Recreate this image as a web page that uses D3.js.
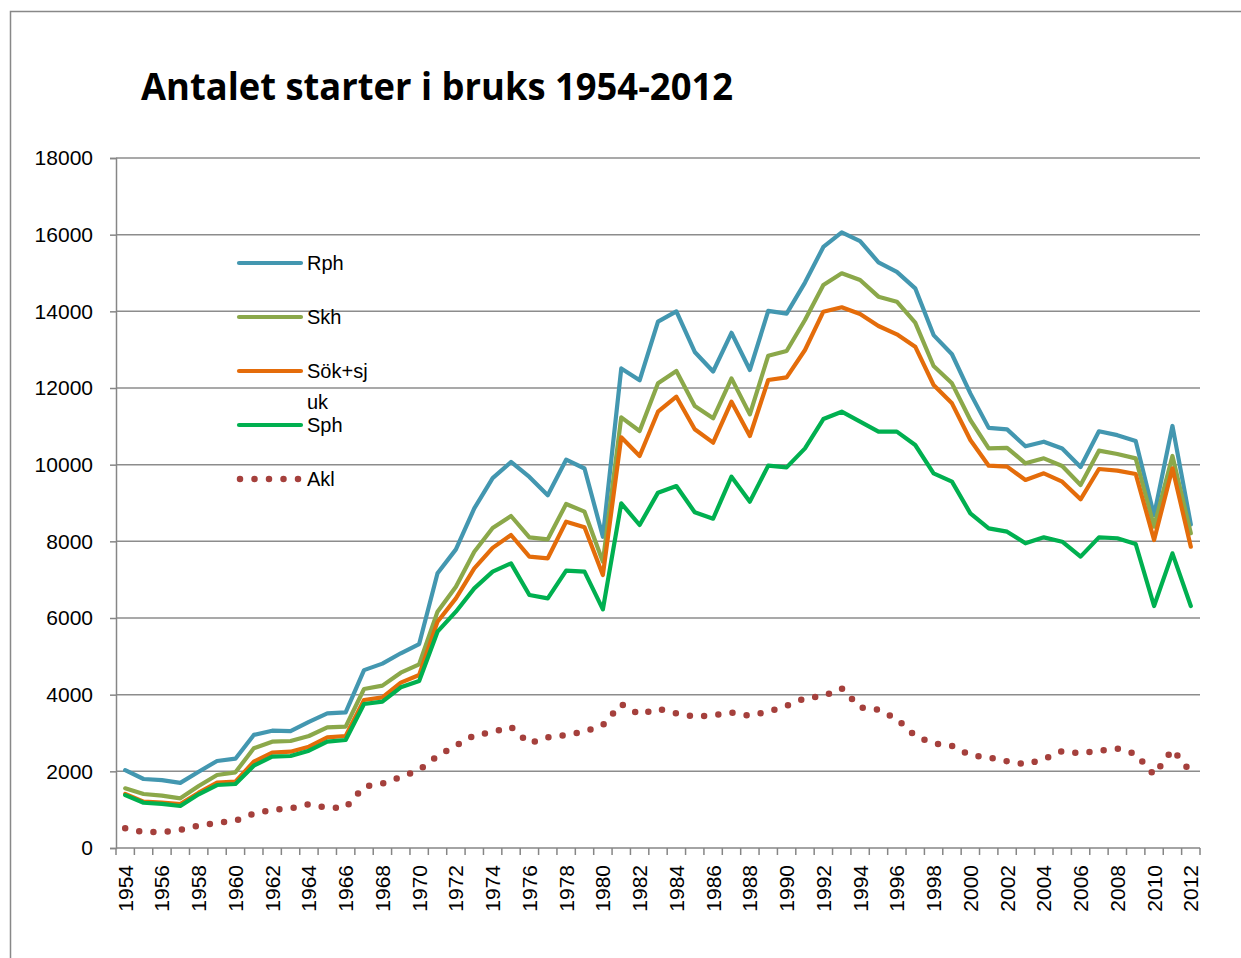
<!DOCTYPE html>
<html><head><meta charset="utf-8">
<script src="https://cdn.jsdelivr.net/npm/d3@7"></script>
<style>
html,body{margin:0;padding:0;background:#fff;}
svg{display:block;}
</style></head>
<body>
<script>
const years = d3.range(1954, 2013);
const rph = [2030,1800,1770,1700,1990,2270,2330,2950,3060,3050,3290,3510,3540,4640,4810,5080,5320,7165,7790,8860,9650,10070,9680,9200,10130,9900,8120,12510,12200,13730,14000,12940,12430,13440,12470,14010,13940,14750,15680,16060,15830,15280,15030,14600,13380,12880,11860,10960,10920,10480,10600,10420,9940,10870,10770,10620,8680,11010,8440];
const skh = [1556,1409,1365,1296,1617,1904,1974,2600,2774,2791,2922,3148,3165,4148,4235,4574,4792,6165,6817,7730,8350,8661,8104,8052,8974,8774,7469,11235,10878,12122,12443,11530,11209,12252,11313,12843,12965,13774,14687,14992,14817,14383,14252,13704,12574,12122,11165,10426,10440,10035,10165,9965,9470,10365,10278,10165,8383,10226,8209];
const soksjuk = [1409,1209,1183,1148,1443,1704,1730,2252,2487,2513,2643,2887,2922,3861,3930,4313,4513,5904,6513,7296,7830,8165,7600,7557,8513,8365,7122,10713,10226,11382,11774,10922,10574,11643,10748,12209,12279,12991,13991,14105,13930,13617,13400,13078,12078,11600,10643,9974,9948,9600,9774,9557,9096,9887,9843,9757,8035,9904,7861];
const sph = [1380,1180,1150,1096,1400,1643,1670,2148,2383,2400,2539,2774,2817,3757,3817,4191,4357,5643,6165,6774,7209,7426,6600,6513,7235,7209,6226,8991,8426,9270,9443,8757,8590,9687,9035,9974,9930,10426,11191,11382,11122,10861,10861,10513,9774,9557,8730,8339,8252,7948,8104,7991,7600,8104,8080,7930,6313,7687,6313];
const akl = [513,417,417,470,583,652,713,896,1000,1035,1139,1052,1052,1600,1678,1852,2035,2400,2670,2939,3026,3157,2730,2887,2948,3035,3209,3757,3478,3635,3513,3426,3461,3530,3452,3557,3713,3904,3965,4165,3670,3610,3365,2922,2730,2661,2417,2365,2261,2183,2313,2530,2470,2539,2591,2452,1904,2570,1983];
const seriesNames = ["Rph","Skh","Sök+sjuk","Sph","Akl"];
const seriesColors = ["#4397B0","#8BA84A","#E46C0A","#00B050","#A5403C"];
const yTicks = [0,2000,4000,6000,8000,10000,12000,14000,16000,18000];
const titleText = "Antalet starter i bruks 1954-2012";

const W = 1241, H = 958;
const svg = d3.select("body").append("svg").attr("width", W).attr("height", H);
svg.append("rect").attr("width", W).attr("height", H).attr("fill", "#fff");

// outer frame
svg.append("path").attr("d", `M10.5,${H} V11.5 H${W}`).attr("fill","none").attr("stroke","#888").attr("stroke-width",1.5);

const pL = 116, pR = 1200, pT = 158, pB = 848;
const x = d3.scaleBand().domain(years).range([pL, pR]);
const xc = d => x(d) + x.bandwidth()/2;
const y = d3.scaleLinear().domain([0, 18000]).range([pB, pT]);

// title
svg.append("text").attr("x", 141).attr("y", 100)
  .attr("font-family", "'Liberation Sans Narrow', 'Open Sans', 'Liberation Sans', sans-serif")
  .attr("font-weight", "bold").attr("font-size", 37)
  .attr("textLength", 592).attr("lengthAdjust", "spacingAndGlyphs")
  .attr("fill", "#000").text(titleText);

// gridlines
svg.append("g").selectAll("line").data(yTicks.filter(v => v > 0)).join("line")
  .attr("x1", pL).attr("x2", pR).attr("y1", d => y(d)).attr("y2", d => y(d))
  .attr("stroke", "#8c8c8c").attr("stroke-width", 1.5);

// y axis
const yAxis = svg.append("g").attr("transform", `translate(${pL},0)`)
  .call(d3.axisLeft(y).tickValues(yTicks).tickSize(6).tickPadding(17).tickFormat(d3.format("d")));
yAxis.select(".domain").attr("stroke", "#868686").attr("stroke-width", 1.5);
yAxis.selectAll(".tick line").attr("stroke", "#868686").attr("stroke-width", 1.5);
yAxis.selectAll("text").attr("font-family", "'Liberation Sans', Arial, sans-serif").attr("font-size", 21).attr("fill", "#000");

// x axis with ticks at category boundaries
const xAxisG = svg.append("g").attr("transform", `translate(0,${pB})`);
xAxisG.append("line").attr("x1", pL).attr("x2", pR).attr("y1", 0).attr("y2", 0)
  .attr("stroke", "#868686").attr("stroke-width", 1.5);
const boundaries = years.map(d => x(d)).concat([pR]);
xAxisG.selectAll("line.tk").data(boundaries).join("line").attr("class","tk")
  .attr("x1", d => d).attr("x2", d => d).attr("y1", 0).attr("y2", 7)
  .attr("stroke", "#868686").attr("stroke-width", 1.5);
xAxisG.selectAll("text").data(years.filter(d => (d - 1954) % 2 === 0)).join("text")
  .attr("transform", d => `translate(${xc(d)},17) rotate(-90)`)
  .attr("text-anchor", "end").attr("dy", "0.36em")
  .attr("font-family", "'Liberation Sans', Arial, sans-serif").attr("font-size", 21).attr("fill", "#000")
  .text(d => d);

// lines
const allSeries = [rph, skh, soksjuk, sph, akl];
const line = d3.line().x((d, i) => xc(years[i])).y(d => y(d));
allSeries.forEach((s, k) => {
  const p = svg.append("path").datum(s).attr("d", line).attr("fill", "none")
    .attr("stroke", seriesColors[k]).attr("stroke-linejoin", "round").attr("stroke-linecap", "round");
  if (k === 4) p.attr("stroke-width", 6.5).attr("stroke-dasharray", "0,14.3");
  else p.attr("stroke-width", 4.2);
});

// legend
const legY = [263, 317, 371, 425, 479];
const lg = svg.append("g");
seriesNames.forEach((n, k) => {
  if (k === 4) {
    lg.append("line").attr("x1", 240).attr("x2", 299).attr("y1", legY[k]).attr("y2", legY[k])
      .attr("stroke", seriesColors[k]).attr("stroke-width", 6.5).attr("stroke-linecap", "round")
      .attr("stroke-dasharray", "0,14.5");
  } else {
    lg.append("line").attr("x1", 239).attr("x2", 301).attr("y1", legY[k]).attr("y2", legY[k])
      .attr("stroke", seriesColors[k]).attr("stroke-width", 4.2).attr("stroke-linecap", "round");
  }
  const t = lg.append("text").attr("x", 307).attr("y", legY[k]).attr("dy", "0.36em")
    .attr("font-family", "'Liberation Sans', Arial, sans-serif").attr("font-size", 20).attr("fill", "#000");
  if (n === "Sök+sjuk") {
    t.append("tspan").attr("x", 307).text("Sök+sj");
    t.append("tspan").attr("x", 307).attr("dy", "1.55em").text("uk");
  } else t.text(n);
});
</script>
</body></html>
